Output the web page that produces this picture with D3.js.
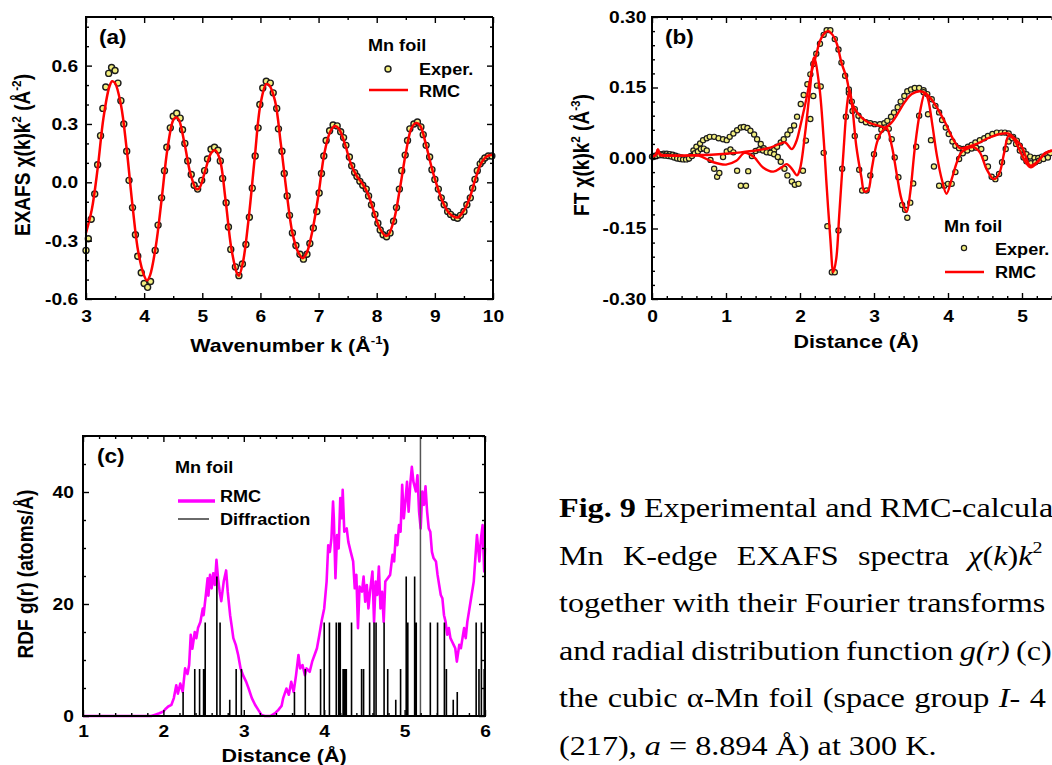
<!DOCTYPE html>
<meta charset="utf-8">
<style>
body { margin: 0; background: #fff; }
</style>
<body>
<script src="https://cdn.jsdelivr.net/npm/d3@7"></script>
<script>
// ---- data ----
// (a) EXAFS chi(k)k^2, [k, value]
var exafsExp = [[3.00,-0.35],[3.04,-0.29],[3.09,-0.19],[3.15,-0.06],[3.20,0.09],[3.25,0.24],[3.29,0.38],[3.34,0.49],[3.39,0.56],[3.44,0.59],[3.50,0.575],[3.55,0.51],[3.60,0.42],[3.65,0.30],[3.70,0.16],[3.74,0.01],[3.80,-0.13],[3.85,-0.27],[3.89,-0.38],[3.95,-0.465],[4.00,-0.52],[4.06,-0.54],[4.11,-0.51],[4.19,-0.35],[4.24,-0.22],[4.30,-0.08],[4.35,0.06],[4.39,0.18],[4.45,0.28],[4.50,0.34],[4.56,0.355],[4.62,0.33],[4.66,0.27],[4.70,0.20],[4.75,0.11],[4.81,0.04],[4.86,-0.015],[4.92,-0.035],[4.99,0.01],[5.04,0.06],[5.09,0.12],[5.15,0.17],[5.21,0.18],[5.27,0.165],[5.31,0.11],[5.35,0.02],[5.41,-0.105],[5.45,-0.23],[5.49,-0.345],[5.57,-0.435],[5.63,-0.48],[5.69,-0.42],[5.75,-0.32],[5.81,-0.18],[5.86,-0.03],[5.91,0.135],[5.96,0.28],[5.99,0.40],[6.04,0.485],[6.10,0.52],[6.17,0.51],[6.22,0.46],[6.28,0.38],[6.31,0.275],[6.37,0.16],[6.41,0.045],[6.46,-0.07],[6.50,-0.17],[6.55,-0.26],[6.61,-0.325],[6.68,-0.37],[6.74,-0.395],[6.80,-0.37],[6.85,-0.315],[6.91,-0.235],[6.97,-0.15],[7.01,-0.055],[7.05,0.045],[7.09,0.135],[7.13,0.215],[7.19,0.265],[7.25,0.295],[7.32,0.29],[7.38,0.26],[7.43,0.23],[7.47,0.19],[7.53,0.13],[7.57,0.085],[7.62,0.05],[7.66,0.03],[7.71,0.005],[7.76,-0.015],[7.82,-0.035],[7.86,-0.07],[7.91,-0.115],[7.97,-0.165],[8.02,-0.21],[8.06,-0.245],[8.11,-0.27],[8.17,-0.28],[8.23,-0.26],[8.29,-0.20],[8.34,-0.13],[8.39,-0.035],[8.43,0.06],[8.49,0.14],[8.53,0.215],[8.57,0.275],[8.64,0.30],[8.70,0.31],[8.76,0.285],[8.80,0.245],[8.85,0.19],[8.91,0.13],[8.95,0.065],[9.00,0.015],[9.06,-0.035],[9.11,-0.08],[9.16,-0.115],[9.22,-0.15],[9.27,-0.165],[9.33,-0.18],[9.39,-0.185],[9.44,-0.17],[9.50,-0.15],[9.55,-0.115],[9.61,-0.08],[9.65,-0.03],[9.69,0.015],[9.73,0.06],[9.78,0.095],[9.82,0.11],[9.86,0.125],[9.92,0.135],[9.98,0.135]];
var exafsRmc = [[3.0,-0.26],[3.1,-0.14],[3.2,0.07],[3.3,0.33],[3.4,0.49],[3.45,0.52],[3.5,0.51],[3.6,0.40],[3.7,0.17],[3.8,-0.12],[3.9,-0.36],[4.0,-0.48],[4.05,-0.505],[4.1,-0.48],[4.2,-0.33],[4.3,-0.09],[4.4,0.17],[4.5,0.32],[4.55,0.335],[4.6,0.32],[4.7,0.19],[4.8,0.04],[4.9,-0.035],[4.95,-0.03],[5.05,0.06],[5.15,0.15],[5.22,0.165],[5.3,0.12],[5.4,-0.09],[5.5,-0.34],[5.6,-0.47],[5.63,-0.48],[5.7,-0.41],[5.8,-0.18],[5.9,0.12],[6.0,0.40],[6.1,0.505],[6.15,0.50],[6.25,0.42],[6.35,0.20],[6.45,-0.05],[6.55,-0.26],[6.65,-0.36],[6.73,-0.39],[6.8,-0.36],[6.9,-0.24],[7.0,-0.06],[7.1,0.15],[7.2,0.26],[7.28,0.29],[7.35,0.275],[7.45,0.20],[7.55,0.10],[7.65,0.035],[7.75,-0.005],[7.85,-0.06],[7.95,-0.15],[8.05,-0.235],[8.15,-0.275],[8.2,-0.27],[8.3,-0.19],[8.4,-0.03],[8.5,0.15],[8.6,0.28],[8.68,0.305],[8.75,0.29],[8.85,0.19],[8.95,0.07],[9.05,-0.03],[9.15,-0.11],[9.25,-0.16],[9.35,-0.18],[9.4,-0.18],[9.5,-0.145],[9.6,-0.08],[9.7,0.02],[9.8,0.10],[9.9,0.135],[10.0,0.14]];

// (b) Fourier transform, [R, value]: magnitude and imaginary part
var ftMagExp = [[0.00,0.003],[0.04,0.005],[0.08,0.007],[0.12,0.008],[0.16,0.009],[0.20,0.009],[0.24,0.008],[0.28,0.007],[0.32,0.005],[0.36,0.003],[0.40,0.001],[0.44,-0.001],[0.48,-0.002],[0.52,0.004],[0.56,0.016],[0.60,0.024],[0.65,0.031],[0.69,0.038],[0.74,0.042],[0.78,0.045],[0.84,0.045],[0.90,0.042],[0.96,0.040],[1.01,0.038],[1.05,0.045],[1.10,0.052],[1.15,0.059],[1.20,0.065],[1.24,0.066],[1.29,0.064],[1.33,0.058],[1.38,0.050],[1.42,0.040],[1.47,0.030],[1.51,0.021],[1.56,0.016],[1.60,0.012],[1.65,0.017],[1.69,0.024],[1.74,0.033],[1.78,0.040],[1.83,0.050],[1.87,0.059],[1.92,0.069],[1.96,0.088],[2.01,0.115],[2.05,0.134],[2.10,0.157],[2.14,0.178],[2.18,0.200],[2.22,0.222],[2.27,0.243],[2.32,0.262],[2.36,0.272],[2.41,0.272],[2.47,0.253],[2.52,0.231],[2.56,0.203],[2.61,0.175],[2.66,0.139],[2.70,0.120],[2.74,0.104],[2.79,0.090],[2.83,0.081],[2.89,0.076],[2.95,0.074],[3.01,0.072],[3.08,0.072],[3.14,0.074],[3.18,0.079],[3.23,0.088],[3.27,0.097],[3.32,0.108],[3.36,0.120],[3.41,0.132],[3.45,0.142],[3.50,0.146],[3.55,0.149],[3.61,0.149],[3.67,0.144],[3.72,0.136],[3.78,0.125],[3.83,0.111],[3.88,0.097],[3.92,0.081],[3.97,0.065],[4.01,0.051],[4.06,0.035],[4.10,0.026],[4.15,0.021],[4.21,0.019],[4.27,0.024],[4.32,0.028],[4.37,0.033],[4.43,0.038],[4.49,0.042],[4.54,0.047],[4.60,0.051],[4.66,0.054],[4.72,0.054],[4.77,0.054],[4.82,0.052],[4.88,0.045],[4.93,0.037],[4.97,0.026],[5.02,0.016],[5.06,0.008],[5.11,0.003],[5.17,0.000],[5.22,0.000],[5.27,0.003],[5.33,0.007],[5.38,0.010]];
var ftImExp = [[0.02,0.002],[0.06,0.004],[0.10,0.006],[0.14,0.006],[0.18,0.005],[0.22,0.004],[0.26,0.003],[0.30,0.001],[0.34,-0.001],[0.38,-0.002],[0.42,-0.003],[0.46,-0.003],[0.50,-0.001],[0.54,0.004],[0.58,0.010],[0.62,0.014],[0.66,0.019],[0.70,0.020],[0.74,0.016],[0.79,-0.004],[0.84,-0.023],[0.88,-0.040],[0.91,-0.032],[0.96,0.002],[1.01,0.014],[1.06,0.018],[1.10,0.012],[1.15,-0.027],[1.20,-0.059],[1.27,-0.059],[1.30,-0.028],[1.35,0.004],[1.40,0.015],[1.45,0.018],[1.50,0.016],[1.55,0.012],[1.60,0.011],[1.65,0.008],[1.70,0.002],[1.74,-0.008],[1.79,-0.023],[1.83,-0.037],[1.89,-0.050],[1.93,-0.057],[1.98,-0.055],[2.04,-0.027],[2.08,0.037],[2.14,0.083],[2.18,0.132],[2.23,0.154],[2.28,0.152],[2.32,0.011],[2.37,-0.145],[2.43,-0.243],[2.47,-0.243],[2.52,-0.154],[2.57,-0.023],[2.62,0.088],[2.66,0.146],[2.71,0.100],[2.74,0.047],[2.80,-0.025],[2.84,-0.069],[2.90,-0.069],[2.95,-0.037],[3.00,0.008],[3.05,0.045],[3.10,0.060],[3.15,0.065],[3.20,0.062],[3.24,0.040],[3.28,0.001],[3.33,-0.041],[3.38,-0.100],[3.42,-0.110],[3.45,-0.127],[3.49,-0.095],[3.53,-0.054],[3.57,0.024],[3.61,0.090],[3.67,0.140],[3.73,0.093],[3.77,0.038],[3.81,-0.018],[3.88,-0.059],[3.95,-0.059],[4.00,-0.055],[4.05,-0.055],[4.10,-0.030],[4.15,-0.002],[4.20,0.010],[4.26,0.016],[4.32,0.020],[4.38,0.022],[4.45,0.019],[4.50,0.000],[4.54,-0.018],[4.59,-0.040],[4.64,-0.045],[4.69,-0.034],[4.73,-0.009],[4.78,0.019],[4.82,0.035],[4.87,0.042],[4.92,0.030],[4.97,0.016],[5.02,0.001],[5.06,-0.007],[5.12,-0.011],[5.18,-0.009],[5.23,-0.006],[5.29,-0.002],[5.35,0.001]];
var ftMagRmc = [[0.00,0.003],[0.05,0.006],[0.08,0.018],[0.11,0.008],[0.20,0.006],[0.40,0.005],[0.60,0.006],[0.80,0.007],[1.00,0.009],[1.20,0.012],[1.40,0.016],[1.60,0.022],[1.72,0.030],[1.80,0.033],[1.89,0.019],[1.95,0.035],[2.00,0.065],[2.05,0.100],[2.09,0.129],[2.16,0.185],[2.22,0.220],[2.27,0.249],[2.34,0.267],[2.38,0.270],[2.44,0.262],[2.50,0.242],[2.56,0.203],[2.63,0.170],[2.70,0.118],[2.79,0.093],[2.92,0.076],[3.06,0.069],[3.15,0.065],[3.24,0.076],[3.33,0.097],[3.42,0.120],[3.51,0.136],[3.62,0.142],[3.71,0.136],[3.82,0.115],[3.96,0.076],[4.07,0.040],[4.16,0.021],[4.25,0.023],[4.39,0.030],[4.54,0.042],[4.70,0.051],[4.82,0.052],[4.91,0.040],[5.00,0.023],[5.05,0.003],[5.11,-0.016],[5.22,-0.006],[5.31,0.010],[5.40,0.016]];
var ftImRmc = [[0.00,0.003],[0.05,0.006],[0.08,0.018],[0.11,0.006],[0.20,0.005],[0.40,0.005],[0.63,0.005],[0.83,-0.009],[1.00,-0.014],[1.14,-0.006],[1.25,0.011],[1.37,0.003],[1.50,-0.020],[1.64,-0.029],[1.75,-0.020],[1.82,-0.013],[1.89,-0.023],[1.96,-0.037],[2.00,-0.023],[2.07,0.054],[2.13,0.139],[2.19,0.214],[2.26,0.154],[2.32,0.040],[2.36,-0.059],[2.41,-0.172],[2.45,-0.243],[2.49,-0.214],[2.53,-0.122],[2.59,0.019],[2.63,0.104],[2.67,0.146],[2.71,0.104],[2.76,0.026],[2.83,-0.041],[2.87,-0.071],[2.92,-0.069],[2.97,-0.023],[3.04,0.033],[3.10,0.055],[3.17,0.063],[3.24,0.026],[3.31,-0.037],[3.37,-0.087],[3.44,-0.115],[3.49,-0.073],[3.55,0.019],[3.62,0.097],[3.69,0.139],[3.73,0.125],[3.79,0.069],[3.85,0.005],[3.92,-0.048],[3.98,-0.076],[4.05,-0.045],[4.12,-0.009],[4.18,0.012],[4.25,0.019],[4.34,0.023],[4.43,0.012],[4.52,-0.023],[4.62,-0.045],[4.69,-0.034],[4.76,0.012],[4.82,0.047],[4.89,0.040],[4.96,0.019],[5.05,-0.009],[5.12,-0.020],[5.21,-0.009],[5.30,0.008],[5.41,0.016]];

// (c) RDF g(r): RMC curve [r, g] and diffraction sticks [r, height]
var rdfRmc = [[1.00,0],[1.50,0],[1.85,0],[1.89,0.2],[1.95,0.5],[2.00,0.8],[2.03,1.3],[2.06,1.7],[2.10,2.0],[2.13,3.2],[2.16,5.5],[2.18,4.0],[2.21,5.8],[2.24,4.3],[2.27,8.5],[2.30,7.5],[2.32,9.1],[2.34,14.5],[2.36,12.0],[2.39,15.0],[2.41,13.9],[2.43,15.7],[2.46,16.8],[2.49,19.2],[2.50,18.0],[2.53,21.9],[2.55,24.6],[2.56,21.5],[2.58,25.2],[2.60,22.8],[2.62,25.5],[2.64,23.4],[2.66,27.9],[2.68,24.5],[2.70,22.2],[2.72,20.5],[2.75,24.0],[2.78,26.0],[2.80,22.2],[2.83,18.0],[2.85,16.0],[2.87,13.9],[2.90,12.7],[2.93,10.9],[2.96,8.5],[2.99,7.3],[3.03,6.1],[3.06,4.9],[3.10,3.2],[3.14,2.0],[3.18,1.1],[3.22,0.2],[3.26,0],[3.33,0],[3.39,0.5],[3.43,1.1],[3.47,1.8],[3.49,3.2],[3.53,4.9],[3.56,3.8],[3.59,6.1],[3.62,4.3],[3.65,7.3],[3.68,10.9],[3.70,8.5],[3.73,9.1],[3.76,7.3],[3.78,8.5],[3.82,7.9],[3.85,9.7],[3.88,10.9],[3.91,12.1],[3.94,14.5],[3.97,17.1],[4.00,19.2],[4.03,24.0],[4.05,30.5],[4.07,29.3],[4.09,31.7],[4.11,38.3],[4.12,35.3],[4.14,24.6],[4.16,32.3],[4.18,29.9],[4.20,38.9],[4.22,35.3],[4.23,40.4],[4.25,32.9],[4.28,33.5],[4.30,31.1],[4.33,29.3],[4.36,27.6],[4.38,22.8],[4.40,25.2],[4.42,15.7],[4.44,23.1],[4.47,22.2],[4.49,24.9],[4.51,20.4],[4.53,23.4],[4.55,19.2],[4.57,22.2],[4.60,25.8],[4.62,16.8],[4.64,24.0],[4.66,21.6],[4.68,26.7],[4.70,19.2],[4.72,22.2],[4.74,16.8],[4.76,24.0],[4.79,24.6],[4.82,25.2],[4.85,28.8],[4.87,27.6],[4.89,32.3],[4.91,30.5],[4.93,34.1],[4.95,32.9],[4.97,41.3],[4.99,35.3],[5.01,38.3],[5.03,41.8],[5.05,36.5],[5.07,41.3],[5.09,44.5],[5.11,41.8],[5.14,40.1],[5.16,43.0],[5.18,36.5],[5.20,33.5],[5.22,40.1],[5.24,37.7],[5.26,41.0],[5.28,36.5],[5.30,33.5],[5.32,32.9],[5.34,29.3],[5.36,28.2],[5.39,27.6],[5.41,25.2],[5.43,23.4],[5.45,21.6],[5.47,21.0],[5.49,18.0],[5.51,16.8],[5.53,14.5],[5.55,15.7],[5.57,13.9],[5.59,13.3],[5.61,12.7],[5.63,12.1],[5.65,9.7],[5.68,12.7],[5.70,12.1],[5.72,13.9],[5.74,15.7],[5.76,13.9],[5.78,16.8],[5.80,18.6],[5.82,20.4],[5.84,22.2],[5.86,24.0],[5.88,28.2],[5.90,32.3],[5.93,27.6],[5.95,31.7],[5.97,34.1],[5.99,25.8],[6.00,30.0]];
var diffSticks = [[2.245,4.3],[2.39,8.4],[2.45,8.4],[2.50,8.4],[2.52,16.7],[2.665,24.9],[2.705,16.7],[2.825,2.9],[2.905,8.4],[2.97,8.4],[3.63,4.3],[3.765,8.4],[3.955,8.4],[4.00,16.7],[4.065,16.7],[4.15,16.7],[4.18,16.7],[4.20,16.7],[4.235,8.4],[4.255,8.4],[4.275,8.4],[4.34,16.7],[4.465,8.4],[4.49,8.4],[4.565,16.7],[4.62,16.7],[4.645,16.7],[4.745,16.7],[4.79,8.4],[4.89,2.9],[4.95,8.4],[5.02,24.9],[5.04,16.7],[5.125,24.9],[5.145,16.7],[5.32,16.7],[5.41,16.7],[5.495,16.7],[5.52,8.4],[5.605,2.9],[5.655,4.3],[5.89,16.7],[5.925,8.4],[5.955,16.7],[5.99,8.4]];
var diffTall = [[5.197,50]];

// tick labels
var kTicks = [3,4,5,6,7,8,9,10];
var chiTicks = [-0.6,-0.3,0.0,0.3,0.6];
var rTicksB = [0,1,2,3,4,5];
var ftTicks = [-0.30,-0.15,0.00,0.15,0.30];
var rTicksC = [1,2,3,4,5,6];
var gTicks = [0,20,40];

// caption, one entry per printed line: [text, flags]
var captionLines = [
  [["Fig. 9","b"],[" Experimental and RMC-calcula",""]],
  [["Mn K-edge EXAFS spectra ",""],["χ","i"],["(",""],["k","i"],[")",""],["k","i"],["2","s"]],
  [["together with their Fourier transforms",""]],
  [["and radial distribution function ",""],["g(r)","i"],[" (c)",""]],
  [["the cubic α-Mn foil (space group ",""],["I-","i"],[" 4",""]],
  [["(217), ",""],["a","i"],[" = 8.894 Å) at 300 K.",""]]
];
var captionSpacing = [0, 9.7, 0, -1.5, 1.2, 0];

// ---- drawing ----
var SX = 1.13;  // the reference is a little wider than tall

var svg = d3.select("body").append("svg")
    .attr("width", 1052)
    .attr("height", 765)
    .style("font-family", "Liberation Sans, Arial, Helvetica, sans-serif")
    .style("font-weight", "bold");

function rich(parent, x, y, segs, size, anchor, rot, sx) {
  var t = parent.append("text")
      .attr("transform", "translate(" + x + "," + y + ") scale(" + (sx || SX) + ",1)" + (rot ? " rotate(" + rot + ")" : ""))
      .attr("font-size", size)
      .attr("text-anchor", anchor || "start");
  var up = false;
  segs.forEach(function(s) {
    var f = s[1] || "";
    var sup = f.indexOf("s") >= 0;
    var sp = t.append("tspan").text(s[0]);
    if (sup) sp.attr("font-size", size * 0.62);
    if (sup !== up) sp.attr("dy", sup ? -size * 0.42 : size * 0.42);
    if (f.indexOf("i") >= 0) sp.style("font-style", "italic");
    if (f.indexOf("b") >= 0) sp.style("font-weight", "bold");
    up = sup;
  });
  return t;
}

function drawFrame(g, x, y, o) {
  var x0 = x.range()[0], x1 = x.range()[1], y0 = y.range()[0], y1 = y.range()[1];
  var noLabel = function() { return ""; };
  function ax(axis, tr, size, vals, fmt, pad) {
    var a = g.append("g").attr("transform", tr)
        .call(axis.tickValues(vals).tickSize(size).tickSizeOuter(0)
          .tickPadding(pad || 0).tickFormat(fmt || noLabel));
    a.select(".domain").remove();
    a.attr("font-size", 17).attr("font-family", null);
    a.selectAll(".tick line").attr("stroke-width", 1.4);
    a.selectAll(".tick text").attr("transform", "scale(" + SX + ",1)");
  }
  ax(d3.axisBottom(x), "translate(0," + y0 + ")", -6, o.xt, o.xf, o.xp);
  ax(d3.axisBottom(x), "translate(0," + y0 + ")", -3, o.xm);
  ax(d3.axisTop(x), "translate(0," + y1 + ")", -6, o.xt);
  ax(d3.axisTop(x), "translate(0," + y1 + ")", -3, o.xm);
  ax(d3.axisLeft(y), "translate(" + x0 + ",0)", -6, o.yt, o.yf, o.yp);
  ax(d3.axisLeft(y), "translate(" + x0 + ",0)", -3, o.ym);
  var p = "M" + x1 + "," + y1 + "H" + x0 + "V" + y0 + "H" + x1;
  if (o.right) {
    ax(d3.axisRight(y), "translate(" + x1 + ",0)", -6, o.yt);
    ax(d3.axisRight(y), "translate(" + x1 + ",0)", -3, o.ym);
    p += "V" + y1;
  }
  g.append("path").attr("d", p).attr("fill", "none")
      .attr("stroke", "#000").attr("stroke-width", 2);
}

function minor(a, b, step, skip) {
  return d3.range(a, b + step / 2, step).filter(function(v) {
    return skip.every(function(s) { return Math.abs(s - v) > 1e-6; });
  });
}

var MARK_FILL = "#f3ef80", MARK_STROKE = "#1c1c1c";

// ---------- panel (a) ----------
var xA = d3.scaleLinear().domain([3, 10]).range([86, 493]);
var yA = d3.scaleLinear().domain([-0.6, 0.85]).range([299, 17]);
var gA = svg.append("g");

gA.selectAll("circle.exp").data(exafsExp).enter().append("circle")
    .attr("cx", function(d) { return xA(d[0]); })
    .attr("cy", function(d) { return yA(d[1]); })
    .attr("r", 3)
    .attr("fill", MARK_FILL).attr("stroke", MARK_STROKE).attr("stroke-width", 1.4);

gA.append("path").datum(exafsRmc)
    .attr("fill", "none").attr("stroke", "#ff0000").attr("stroke-width", 2.5)
    .attr("d", d3.line().curve(d3.curveCatmullRom)
      .x(function(d) { return xA(d[0]); })
      .y(function(d) { return yA(d[1]); }));

drawFrame(gA, xA, yA, {
  xt: kTicks, xm: minor(3, 10, 0.5, kTicks), xf: function(d) { return d; }, xp: 11,
  yt: chiTicks, ym: minor(-0.6, 0.8, 0.1, chiTicks), yf: function(d) { return d.toFixed(1); }, yp: 7,
  right: true
});

rich(gA, 99, 44, [["(a)"]], 20);
rich(gA, 290, 352, [["Wavenumber k (Å"], ["-1", "s"], [")"]], 19, "middle");
rich(gA, 30, 155, [["EXAFS "], ["χ", "n"], ["(k)k"], ["2", "s"], [" (Å"], ["-2", "s"], [")"]], 19, "middle", -90);

rich(gA, 368, 51, [["Mn foil"]], 16);
gA.append("circle").attr("cx", 388).attr("cy", 69).attr("r", 3)
    .attr("fill", MARK_FILL).attr("stroke", MARK_STROKE).attr("stroke-width", 1.4);
rich(gA, 419, 75, [["Exper."]], 16);
gA.append("line").attr("x1", 369).attr("x2", 408).attr("y1", 90).attr("y2", 90)
    .attr("stroke", "#ff0000").attr("stroke-width", 2.5);
rich(gA, 419, 97, [["RMC"]], 16);

// ---------- panel (b) ----------
var xB = d3.scaleLinear().domain([0, 5.4]).range([652, 1051.6]);
var yB = d3.scaleLinear().domain([-0.3, 0.3]).range([299, 17]);
var gB = svg.append("g");

[ftMagExp, ftImExp].forEach(function(series) {
  gB.append("g").selectAll("circle").data(series).enter().append("circle")
      .attr("cx", function(d) { return xB(d[0]); })
      .attr("cy", function(d) { return yB(d[1]); })
      .attr("r", 2.6)
      .attr("fill", MARK_FILL).attr("stroke", MARK_STROKE).attr("stroke-width", 1.2);
});

var lineB = d3.line().curve(d3.curveCatmullRom)
    .x(function(d) { return xB(d[0]); })
    .y(function(d) { return yB(d[1]); });
[ftMagRmc, ftImRmc].forEach(function(series) {
  gB.append("path").datum(series)
      .attr("fill", "none").attr("stroke", "#ff0000").attr("stroke-width", 2.4)
      .attr("d", lineB);
});

drawFrame(gB, xB, yB, {
  xt: rTicksB, xm: minor(0, 5.4, 0.2, rTicksB), xf: function(d) { return d; }, xp: 11,
  yt: ftTicks, ym: minor(-0.3, 0.3, 0.03, ftTicks), yf: function(d) { return d.toFixed(2); }, yp: 5,
  right: false
});

rich(gB, 665, 44, [["(b)"]], 20);
rich(gB, 856, 348, [["Distance (Å)"]], 19, "middle");
rich(gB, 589, 155, [["FT "], ["χ", "n"], ["(k)k"], ["2", "s"], [" (Å"], ["-3", "s"], [")"]], 19, "middle", -90);

rich(gB, 944, 232, [["Mn foil"]], 16);
gB.append("circle").attr("cx", 964).attr("cy", 248).attr("r", 2.6)
    .attr("fill", MARK_FILL).attr("stroke", MARK_STROKE).attr("stroke-width", 1.2);
rich(gB, 995, 255, [["Exper."]], 16);
gB.append("line").attr("x1", 945).attr("x2", 984).attr("y1", 272).attr("y2", 272)
    .attr("stroke", "#ff0000").attr("stroke-width", 2.5);
rich(gB, 995, 278, [["RMC"]], 16);

// ---------- panel (c) ----------
var xC = d3.scaleLinear().domain([1, 6]).range([83, 485]);
var yC = d3.scaleLinear().domain([0, 50]).range([716, 436]);
var gC = svg.append("g");

gC.append("path").datum(rdfRmc)
    .attr("fill", "none").attr("stroke", "#ff00ff").attr("stroke-width", 2.6)
    .attr("stroke-linejoin", "round")
    .attr("d", d3.line()
      .x(function(d) { return xC(d[0]); })
      .y(function(d) { return yC(d[1]); }));

gC.append("path")
    .attr("fill", "none").attr("stroke", "#000").attr("stroke-width", 1.6)
    .attr("d", diffSticks.map(function(d) {
      return "M" + xC(d[0]) + "," + yC(0) + "V" + yC(d[1]);
    }).join(""));
gC.append("path")
    .attr("fill", "none").attr("stroke", "#555").attr("stroke-width", 1.5)
    .attr("d", diffTall.map(function(d) {
      return "M" + xC(d[0]) + "," + yC(0) + "V" + yC(d[1]);
    }).join(""));

drawFrame(gC, xC, yC, {
  xt: rTicksC, xm: minor(1, 6, 0.2, rTicksC), xf: function(d) { return d; }, xp: 9,
  yt: gTicks, ym: minor(0, 50, 5, gTicks), yf: function(d) { return d; }, yp: 8,
  right: true
});

rich(gC, 97, 463, [["(c)"]], 20);
rich(gC, 284, 762, [["Distance (Å)"]], 19, "middle");
rich(gC, 33, 574, [["RDF g(r) (atoms/Å)"]], 19, "middle", -90);

rich(gC, 175, 473, [["Mn foil"]], 16);
gC.append("line").attr("x1", 178).attr("x2", 215).attr("y1", 501).attr("y2", 501)
    .attr("stroke", "#ff00ff").attr("stroke-width", 3.5);
rich(gC, 220, 502, [["RMC"]], 16);
gC.append("line").attr("x1", 178).attr("x2", 209).attr("y1", 519).attr("y2", 519)
    .attr("stroke", "#444").attr("stroke-width", 1.6);
rich(gC, 220, 525, [["Diffraction"]], 16);

// ---------- caption ----------
var cap = svg.append("g")
    .style("font-family", "Liberation Serif, Times New Roman, Times, serif")
    .style("font-weight", "normal");
captionLines.forEach(function(line, i) {
  rich(cap, 559, 517 + i * 47.6, line, 28, "start", 0, 1.15)
      .attr("word-spacing", captionSpacing[i]);
});
</script>
</body>
